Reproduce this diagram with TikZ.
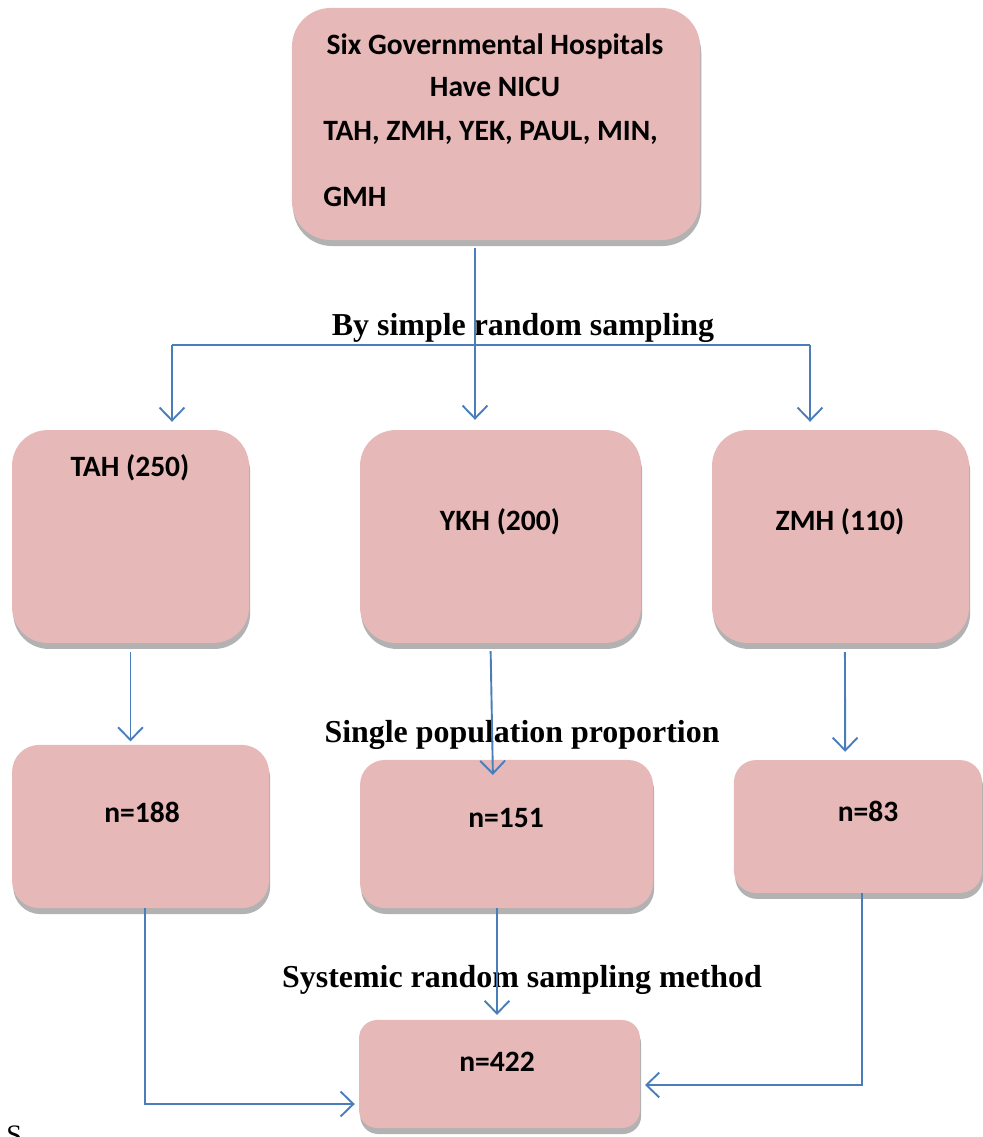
\documentclass[tikz,border=0pt]{standalone}
\usepackage{fontspec}
\setmainfont{Liberation Serif}
\newfontfamily\calibri{Carlito}
\usetikzlibrary{arrows.meta,shadows}

\definecolor{boxPink}{HTML}{E6B8B7}
\definecolor{lineBlue}{HTML}{4A7EBB}

\tikzstyle{hospBox}=[shape=rectangle,fill=boxPink,draw=none,
  drop shadow={shadow xshift=0.03cm,shadow yshift=-0.15cm,fill=gray!60,opacity=1}]
\tikzstyle{boxText}=[font=\calibri\bfseries\fontsize{21}{25}\selectfont,inner sep=0pt]
\tikzstyle{stepText}=[font=\bfseries\fontsize{22.7}{27}\selectfont,inner sep=0pt]
\tikzstyle{flow}=[draw=lineBlue,line width=1.35pt,-{Straight Barb[length=0.32cm,width=0.62cm,line width=1.35pt]}]
\tikzstyle{plain}=[draw=lineBlue,line width=1.35pt]

\begin{document}
\begin{tikzpicture}[x=0.025cm,y=-0.025cm]
        \useasboundingbox (0,0) rectangle (982,1137);

        % boxes
        \node[hospBox,minimum width=10.2cm,minimum height=5.8cm,rounded corners=0.97cm] (top) at (496,124) {};
        \node[hospBox,minimum width=5.92cm,minimum height=5.32cm,rounded corners=0.89cm] (tah) at (130.5,536.5) {};
        \node[hospBox,minimum width=7.02cm,minimum height=5.32cm,rounded corners=0.89cm] (ykh) at (500.5,536.5) {};
        \node[hospBox,minimum width=6.42cm,minimum height=5.32cm,rounded corners=0.89cm] (zmh) at (840.5,536.5) {};
        \node[hospBox,minimum width=6.42cm,minimum height=4.08cm,rounded corners=0.68cm] (n188) at (140.5,826.5) {};
        \node[hospBox,minimum width=7.32cm,minimum height=3.7cm,rounded corners=0.62cm] (n151) at (506.5,834) {};
        \node[hospBox,minimum width=6.2cm,minimum height=3.32cm,rounded corners=0.55cm] (n83) at (858,826.5) {};
        \node[hospBox,minimum width=7.02cm,minimum height=2.7cm,rounded corners=0.45cm] (n422) at (499.5,1074) {};

        % box texts
        \node[boxText] (topA) at (495,46) {Six Governmental Hospitals};
        \node[boxText] (topB) at (495,87) {Have NICU};
        \node[boxText,anchor=west] (topC) at (323,133) {TAH, ZMH, YEK, PAUL, MIN,};
        \node[boxText,anchor=west] (topD) at (323,197) {GMH};
        \node[boxText] (tTah) at (130,468) {TAH (250)};
        \node[boxText] (tYkh) at (500,522) {YKH (200)};
        \node[boxText] (tZmh) at (840,522) {ZMH (110)};
        \node[boxText] (t188) at (142,812) {n=188};
        \node[boxText] (t151) at (506,818) {n=151};
        \node[boxText] (t83) at (868,811) {n=83};
        \node[boxText] (t422) at (497,1062) {n=422};

        % step labels
        \node[stepText] (simple) at (523,328) {By simple random sampling};
        \node[stepText] (single) at (522,735) {Single population proportion};
        \node[stepText] (systemic) at (522,980) {Systemic random sampling method};
        \node[font=\fontsize{20}{24}\selectfont,anchor=north west,inner sep=0pt] (cut) at (6,1126) {S};

        % connectors
        \coordinate (busL) at (172,345);
        \coordinate (busM) at (475,345);
        \coordinate (busR) at (810,345);
        \coordinate (c151) at (497,908);
        \coordinate (c188) at (145,1104);
        \coordinate (c83) at (862,1085);

        \draw [plain] (busL) -- (busR);
        \draw [flow,shorten <=0.2cm,shorten >=0.25cm] (top.south -| busM) to (ykh.north -| busM);
        \draw [flow,shorten >=0.2cm] (busL) to (tah.north -| busL);
        \draw [flow,shorten >=0.2cm] (busR) to (zmh.north -| busR);

        \draw [flow,shorten <=0.22cm,shorten >=0.08cm] (tah.south) to (n188.north -| tah.south);
        \draw [flow,shorten <=0.2cm] ([xshift=-0.25cm]ykh.south) to ([xshift=-0.34cm,yshift=-0.38cm]n151.north);
        \draw [flow,shorten <=0.22cm,shorten >=0.2cm] ([xshift=0.11cm]zmh.south) to ([xshift=-0.32cm]n83.north);

        \draw [flow,shorten >=0.12cm] (c151) to (n422.north -| c151);
        \draw [flow,shorten >=0.1cm] (n188.south -| c188) -- (c188) -- (n422.west |- c188);
        \draw [flow,shorten >=0.12cm] (n83.south -| c83) -- (c83) -- (n422.east |- c83);
\end{tikzpicture}
\end{document}
